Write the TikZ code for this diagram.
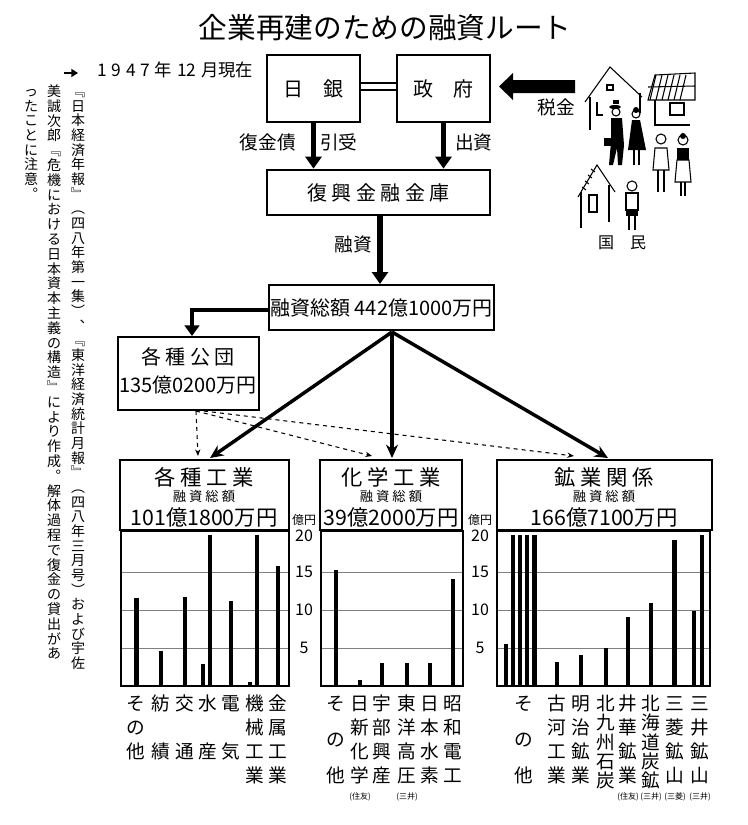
\documentclass[tikz,border=0pt]{standalone}
\usepackage{fontspec}
\setmainfont{Noto Sans CJK JP}[Scale=1]
\usetikzlibrary{arrows.meta,fit}
\ExplSyntaxOn
\NewDocumentCommand\vs{mm}{\tl_set:Nx\l_tmpa_tl{#2}\vbox{\offinterlineskip\tl_map_inline:Nn\l_tmpa_tl{\hbox_to_wd:nn{1.1em}{\hss\vrule~width~0pt~height~0.88em~depth~\dimexpr#1-0.88em\relax\relax ##1\hss}}}}
\ExplSyntaxOff
\newcommand\fz[1]{\fontsize{#1pt}{#1pt}\selectfont}
\begin{document}
\begin{tikzpicture}[x=0.75pt,y=-0.75pt,
  box/.style={draw,line width=2pt,inner sep=0pt},
  hbox/.style={draw,line width=1.6pt,inner sep=0pt},
  frame/.style={draw,line width=0.9pt},
  grid/.style={line width=0.6pt,gray},
  bar/.style={line width=3.4pt},
  fat/.style={line width=4.2pt,-{Triangle[length=9pt,width=12pt]}},
  fan/.style={line width=2.6pt,-{Stealth[length=10pt,width=9pt]}},
  dsh/.style={dashed,line width=0.8pt,-{Stealth[length=5pt,width=4pt]}},
  lab/.style={inner sep=0pt,anchor=north},
  txt/.style={inner sep=0pt}]
\useasboundingbox (0,0) rectangle (747,825);
% title
\node[txt,font=\fz{21.5}] (title) at (385,28) {企業再建のための融資ルート};
\node[txt,font=\fz{13},anchor=west] (date) at (97,70) {1\;9\;4\;7\;年\;12\;月現在};
% top boxes
\node[box,fit={(267,55)(360,122)}] (bj) {};
\node[txt,font=\fz{15}] at (bj) {日　銀};
\node[box,fit={(397,55)(490,122)}] (gov) {};
\node[txt,font=\fz{15}] at (gov) {政　府};
\draw[line width=1.5pt] (bj.east|-0,83) -- (gov.west|-0,83) (bj.east|-0,90) -- (gov.west|-0,90);
\node[box,fit={(267,170)(490,215)}] (rfb) {};
\node[txt,font=\fz{15}] at (rfb) {復 興 金 融 金 庫};
\draw[fat] (bj.south) -- (bj.south|-rfb.north);
\draw[fat] (gov.south) -- (gov.south|-rfb.north);
\node[txt,font=\fz{14},anchor=east] at (296,142) {復金債};
\node[txt,font=\fz{14},anchor=west] at (320,142) {引受};
\node[txt,font=\fz{14},anchor=west] at (455,142) {出資};
% tax arrow
\fill (575,80) -- (513,80) -- (513,73) -- (499,86.5) -- (513,100) -- (513,93) -- (575,93) -- cycle;
\node[txt,font=\fz{14}] (tax) at (556,107) {税金};
% total
\node[box,fit={(269,285)(494,330)}] (tot) {};
\node[txt,font=\fz{15}] at (tot) {融資総額 442億1000万円};
\draw[fat] (rfb.south-|380,0) -- (380,284);
\node[txt,font=\fz{14},anchor=east] at (372,244) {融資};
\node[box,fit={(118,337)(259,410)}] (kodan) {};
\node[txt,font=\fz{15}] at (188,357) {各 種 公 団};
\node[txt,font=\fz{15}] at (188,385) {135億0200万円};
\draw[line width=3pt,-{Triangle[length=8pt,width=11pt]}] (tot.west|-0,310) -- (192,310) -- (192,336);
% header boxes
\node[hbox,fit={(120,460)(289,530)}] (h1) {};
\node[hbox,fit={(320,460)(462,530)}] (h2) {};
\node[hbox,fit={(497,460)(712,530)}] (h3) {};
\foreach \n/\a/\b/\x in {h1/各 種 工 業/101億1800万円/204, h2/化 学 工 業/39億2000万円/391, h3/鉱 業 関 係/166億7100万円/604}{
  \node[txt,font=\fz{16}] at (\x,477) {\a};
  \node[txt,font=\fz{10}] at (\x,496) {融 資 総 額};
  \node[txt,font=\fz{16}] at (\x,517) {\b};
}
\coordinate (o) at (392,332);
\draw[fan] (o) -- (210,458);
\draw[fan] (o) -- (392,458);
\draw[fan] (o) -- (608,458);
\coordinate (d) at (196,411);
\draw[dsh] (d) -- (198,456);
\draw[dsh] (d) -- (372,456);
\draw[dsh] (204,411) -- (574,456);
% charts
\foreach \a/\b in {121/289,321/463,497/710}{
  \foreach \y in {572,610,648} \draw[grid] (\a,\y) -- (\b,\y);
  \draw[frame] (\a,531) rectangle (\b,686);
}
\foreach \x/\v in {136.5/11.7,161/4.7,185/11.8,203/2.9,210/20,231/11.2,250/0.5,257/20,278/15.9,
  336/15.3,360/0.8,382/3.1,407/3.1,430/3.1,453/14.2,
  506/5.6,513/20,520/20,527/20,534.5/20,557/3.2,581/4.1,606/5.1,628/9.1,651/11,674.5/19.3,694/10,702/20}
  \draw[bar] (\x,686) -- (\x,{686-7.55*\v});
\foreach \x in {304,480}{
  \node[txt,font=\fz{9}] at (\x,520) {億円};
  \foreach \v/\y in {20/536,15/572,10/610,5/648} \node[txt,font=\fz{12}] at (\x,\y) {\v};
}
% chart labels
\foreach \x/\p/\t in {136/18/その他,161/36/紡績,185/36/交通,208/36/水産,231/36/電気,255/18/機械工業,278/18/金属工業,
  336/27/その他,360/18/日新化学,382/18/宇部興産,407/18/東洋高圧,430/18/日本水素,453/18/昭和電工,
  524/27/その他,557/18/古河工業,581/18/明治鉱業,606/14.4/北九州石炭,628/18/井華鉱業,651/14.4/北海道炭鉱,675/18/三菱鉱山,700/18/三井鉱山}
  \node[lab,font=\fz{14}] at (\x,694) {\vs{\p pt}{\t}};
\foreach \x/\t in {360/住友,407/三井,628/住友,651/三井,675/三菱,700/三井}
  \node[txt,font=\fz{6}] at (\x,797) {(\t)};
% left note
\draw[line width=1.3pt,-{Triangle[length=5pt,width=6pt]}] (64,73) -- (78,73);
\node[lab,font=\fz{10.5}] at (78,84) {\vs{11pt}{﹃日本経済年報﹄︵四八年第一集︶︑﹃東洋経済統計月報﹄︵四八年三月号︶および宇佐}};
\node[lab,font=\fz{10.5}] at (54,84) {\vs{11.1pt}{美誠次郎﹃危機における日本資本主義の構造﹄により作成︒解体過程で復金の貸出があ}};
\node[lab,font=\fz{10.5}] at (31,84) {\vs{11pt}{ったことに注意︒}};
% people illustration
\begin{scope}[line width=0.8pt]
 \draw (585,102) -- (610,67) -- (642,97);
 \draw (590,97) -- (590,130) (640,93) -- (640,113);
 \draw (607,85) rectangle (613,90);
 \draw (597,102) -- (597,115) -- (603,115);
 \draw (648,100) -- (655,75) -- (695,73) -- (695,100) -- cycle;
 \foreach \i in {0,1,2,3,4,5} \draw (656+6*\i,75) -- (650+6*\i,100);
 \draw (648,87) -- (695,86);
 \draw (655,100) -- (655,125) -- (690,125);
 \draw (670,103) rectangle (684,115);
 \draw (578,197) -- (597,165) -- (615,192);
 \draw (581,192) -- (581,228) (609,185) -- (609,222);
 \draw (589,195) rectangle (597,212);
 \foreach \i in {0,1,2,3} \draw (582+3*\i,187-6*\i) -- (586+3*\i,190-6*\i);
 \fill (615,107) ellipse (6 and 2); \fill (613,104) rectangle (619,100);
 \draw (616,112) circle (4);
 \fill (611,118) -- (622,118) -- (624,145) -- (622,165) -- (618,165) -- (617,148) -- (613,165) -- (609,165) -- (611,142) -- cycle;
 \fill (604,138) rectangle (612,146);
 \draw (636,114) circle (4); \fill (636,110) circle (3);
 \fill (632,120) -- (640,120) -- (646,150) -- (628,150) -- cycle;
 \draw (634,150) -- (634,165) (639,150) -- (639,165);
 \draw (661,139) circle (5);
 \draw (655,148) -- (667,148) -- (669,170) -- (653,170) -- cycle;
 \draw (658,170) -- (658,192) (664,170) -- (664,192);
 \draw (683,140) circle (5); \fill (683,136) circle (3);
 \fill (677,148) rectangle (689,160);
 \draw (677,160) -- (689,160) -- (691,182) -- (675,182) -- cycle;
 \draw (681,182) -- (681,196) (685,182) -- (685,196);
 \draw (632,186) circle (5);
 \draw (626,193) rectangle (638,210);
 \fill (626,210) rectangle (638,216);
 \draw (629,216) -- (629,230) (635,216) -- (635,230);
\end{scope}
\node[txt,font=\fz{12}] (min) at (622,243) {国　民};
\end{tikzpicture}
\end{document}
